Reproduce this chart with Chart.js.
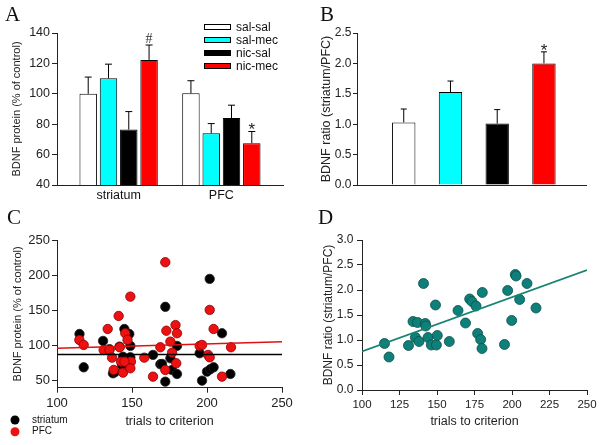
<!DOCTYPE html>
<html>
<head>
<meta charset="utf-8">
<title>BDNF panels</title>
<script src="https://cdn.jsdelivr.net/npm/chart.js@4.4.1/dist/chart.umd.min.js"></script>
<style>
  body { margin: 0; background: #fff; }
  #wrap { position: relative; width: 600px; height: 445px; overflow: hidden; }
  canvas { position: absolute; }
  .letter { position: absolute; font-family: 'Liberation Serif', 'Times New Roman', serif; font-size: 21px; line-height: 1; color: #111; }
</style>
</head>
<body>
<div id="wrap">
  <canvas id="chartA" width="300" height="220" style="left:0;top:0"></canvas>
  <canvas id="chartB" width="300" height="220" style="left:300px;top:0"></canvas>
  <canvas id="chartC" width="300" height="225" style="left:0;top:220px"></canvas>
  <canvas id="chartD" width="300" height="225" style="left:300px;top:220px"></canvas>
  <div class="letter" style="left:5px;top:4px">A</div>
  <div class="letter" style="left:320px;top:4px">B</div>
  <div class="letter" style="left:7px;top:207px">C</div>
  <div class="letter" style="left:318px;top:207px">D</div>
</div>
<script>
// groups and treatments
const regions = ['striatum', 'PFC'];
const regionPos = [1, 2];
const treatments = ['sal-sal', 'sal-mec', 'nic-sal', 'nic-mec'];
const treatmentColors = ['#ffffff', '#00ffff', '#000000', '#ff0000'];

// panel A: BDNF protein (% of control), [striatum, PFC]
const salSal = [100, 100.3];
const salMec = [110.2, 74];
const nicSal = [76.5, 84];
const nicMec = [122.3, 67.5];
const salSalErr = [11, 8.3];
const salMecErr = [9.3, 6.4];
const nicSalErr = [11.8, 8.5];
const nicMecErr = [9.8, 7.7];
const nicMecMarks = ['#', '*'];

// panel B: BDNF ratio (striatum/PFC)
const ratioPos = [1, 2, 3, 4];
const ratioMean = [1.03, 1.53, 1.01, 2.0];
const ratioErr = [0.22, 0.18, 0.23, 0.19];
const ratioMarks = ['', '', '', '*'];

// panel C: BDNF protein vs trials to criterion
const striatumTrials = [115, 117.8, 130.7, 135, 137.3, 141.7, 144.9, 148.2, 148.9, 144, 148.9, 143.3, 164, 168.9, 172.2, 172.2, 170, 175.6, 176.7, 180, 180, 195.1, 196.7, 201.8, 200, 202.2, 204.4, 210, 215.6, 138.5];
const striatumBdnf = [116.4, 69, 106.5, 94.7, 60.5, 98.4, 123.5, 116.4, 99.4, 84, 83.2, 72.3, 86.6, 73.3, 48.6, 155, 73.8, 81.8, 65.2, 59.5, 99.4, 89, 50, 194.7, 62.8, 66.2, 69, 117.4, 59.5, 62];
const pfcTrials = [114.9, 117.8, 133.8, 131.1, 135, 136.7, 137.8, 141.1, 141.8, 142.7, 144, 145.5, 147, 148.9, 149.3, 148.9, 145, 158.2, 164, 168.9, 172.2, 172.9, 172.2, 175.6, 176.7, 179, 180, 179.5, 195.1, 196.7, 200.7, 201.8, 201.8, 204.4, 210, 216];
const pfcBdnf = [107.9, 100.8, 123.5, 93.6, 93.6, 82.7, 65.2, 142, 97.5, 77, 61.4, 117.4, 108, 169.5, 77, 67.6, 77, 82.7, 55.7, 97.5, 218.4, 121, 65.2, 105.5, 89.8, 129, 117.4, 74.7, 99.4, 100.8, 86.6, 83.2, 150.6, 123.5, 55.7, 97.5];
const fitTrials = [100, 250];
const striatumFit = [87.3, 87.3];
const pfcFit = [96, 105.5];
const cTicksY = [50, 100, 150, 200, 250];

// panel D: ratio vs trials to criterion
const ratioTrials = [115, 118, 131, 134, 135.6, 137, 138, 141, 142.2, 142.5, 144, 146.2, 149, 149.6, 150.2, 158.2, 164, 169, 171.8, 173.3, 176, 177.1, 179.1, 180, 180.2, 195, 197.1, 199.8, 202.2, 202.7, 205.1, 210, 216];
const ratioValues = [0.93, 0.66, 0.89, 1.37, 1.05, 1.35, 0.97, 2.13, 1.33, 1.28, 1.05, 0.9, 1.70, 0.9, 1.09, 0.97, 1.59, 1.34, 1.82, 1.77, 1.68, 1.13, 1.01, 0.83, 1.95, 0.91, 1.99, 1.39, 2.31, 2.28, 1.81, 2.13, 1.64];
const ratioFit = [0.77, 2.40];

Chart.defaults.font.family = "'Liberation Sans', Arial, sans-serif";
Chart.defaults.color = '#222';
const axisColor = '#222';

function toPoints(xs, ys) {
  return xs.map((x, i) => ({ x: x, y: ys[i] }));
}

// draws the one-sided error bars plus the significance marks
const errorBars = {
  id: 'errorBars',
  afterDatasetsDraw(chart, args, opts) {
    const ctx = chart.ctx;
    const yScale = chart.scales.y;
    chart.data.datasets.forEach((ds, i) => {
      if (!ds.errors) return;
      const meta = chart.getDatasetMeta(i);
      meta.data.forEach((bar, j) => {
        const capY = yScale.getPixelForValue(ds.data[j].y + ds.errors[j]);
        ctx.save();
        ctx.strokeStyle = '#000';
        ctx.lineWidth = 1;
        ctx.beginPath();
        ctx.moveTo(bar.x, bar.y);
        ctx.lineTo(bar.x, capY);
        ctx.moveTo(bar.x - opts.cap, capY);
        ctx.lineTo(bar.x + opts.cap, capY);
        ctx.stroke();
        const mark = ds.marks ? ds.marks[j] : '';
        if (mark === '*') {
          ctx.fillStyle = '#222';
          ctx.font = "17px 'Liberation Sans', Arial";
          ctx.textAlign = 'center';
          ctx.textBaseline = 'alphabetic';
          ctx.fillText(mark, bar.x, capY + 4);
        } else if (mark) {
          ctx.fillStyle = '#333';
          ctx.font = "14px 'Liberation Serif', serif";
          ctx.textAlign = 'center';
          ctx.textBaseline = 'alphabetic';
          ctx.fillText(mark, bar.x, capY - 2);
        }
        ctx.restore();
      });
    });
  }
};

// flat box legend used in panel A
const boxLegend = {
  id: 'boxLegend',
  afterDraw(chart, args, opts) {
    if (!opts.show) return;
    const ctx = chart.ctx;
    ctx.save();
    chart.data.datasets.forEach((ds, i) => {
      const y = opts.y + i * opts.step;
      ctx.fillStyle = ds.backgroundColor;
      ctx.fillRect(opts.x + 0.5, y - 2.5, 26, 5);
      ctx.strokeStyle = '#000';
      ctx.lineWidth = 1;
      ctx.strokeRect(opts.x + 0.5, y - 2.5, 26, 5);
      ctx.fillStyle = '#111';
      ctx.font = "12px 'Liberation Sans', Arial";
      ctx.textAlign = 'left';
      ctx.textBaseline = 'middle';
      ctx.fillText(ds.label, opts.x + 32, y + 0.5);
    });
    ctx.restore();
  }
};

// dot legend used in panel C
const dotLegend = {
  id: 'dotLegend',
  afterDraw(chart, args, opts) {
    if (!opts.show) return;
    const ctx = chart.ctx;
    ctx.save();
    opts.items.forEach((item, i) => {
      const y = opts.y + i * opts.step;
      ctx.beginPath();
      ctx.arc(opts.x, y, 4.5, 0, Math.PI * 2);
      ctx.fillStyle = item.color;
      ctx.fill();
      ctx.fillStyle = '#111';
      ctx.font = "10px 'Liberation Sans', Arial";
      ctx.textAlign = 'left';
      ctx.textBaseline = 'middle';
      ctx.fillText(item.label, opts.x + 17, y);
    });
    ctx.restore();
  }
};

function yAxis(opts) {
  return {
    type: 'linear',
    min: opts.min,
    max: opts.max,
    afterFit: s => { s.width = opts.width; },
    afterBuildTicks: opts.ticks ? (s => { s.ticks = opts.ticks.map(v => ({ value: v })); }) : undefined,
    ticks: {
      stepSize: opts.step,
      font: { size: opts.tickSize },
      padding: opts.tickPad,
      callback: opts.fmt
    },
    grid: { drawOnChartArea: false, drawTicks: true, tickLength: opts.tickLen, color: axisColor },
    border: { display: true, color: axisColor, width: 1 },
    title: {
      display: true,
      text: opts.title,
      font: { size: opts.titleSize },
      color: '#222',
      padding: { top: opts.titlePad, bottom: 0 }
    }
  };
}

function generatePanelA() {
  const ctx = document.getElementById('chartA').getContext('2d');
  const series = [salSal, salMec, nicSal, nicMec];
  const errs = [salSalErr, salMecErr, nicSalErr, nicMecErr];
  new Chart(ctx, {
    type: 'bar',
    data: {
      datasets: treatments.map((t, i) => ({
        label: t,
        data: toPoints(regionPos, series[i]),
        errors: errs[i],
        marks: i === 3 ? nicMecMarks : null,
        backgroundColor: treatmentColors[i],
        borderColor: '#000',
        borderWidth: 1,
        categoryPercentage: 0.79,
        barPercentage: 0.86
      }))
    },
    options: {
      responsive: false,
      animation: false,
      layout: { padding: { top: 33, right: 17, left: 0, bottom: 0 } },
      plugins: {
        legend: { display: false },
        tooltip: { enabled: false },
        errorBars: { cap: 3.5 },
        boxLegend: { show: true, x: 204, y: 27, step: 13 }
      },
      scales: {
        x: {
          type: 'linear',
          min: 0.4,
          max: 2.6,
          offset: false,
          afterFit: s => { s.height = 35; },
          afterBuildTicks: s => { s.ticks = regionPos.map(v => ({ value: v })); },
          ticks: {
            font: { size: 12.5 },
            padding: 3,
            color: '#111',
            callback: v => regions[regionPos.indexOf(v)]
          },
          grid: { display: true, drawOnChartArea: false, drawTicks: false, offset: false },
          border: { display: true, color: axisColor, width: 1 }
        },
        y: yAxis({ min: 40, max: 140, step: 20, width: 57, tickSize: 12.5, tickPad: 2, tickLen: 5,
                   title: 'BDNF protein (% of control)', titleSize: 11, titlePad: 10.5 })
      }
    },
    plugins: [errorBars, boxLegend]
  });
}

function generatePanelB() {
  const ctx = document.getElementById('chartB').getContext('2d');
  new Chart(ctx, {
    type: 'bar',
    data: {
      datasets: [{
        label: 'ratio',
        data: toPoints(ratioPos, ratioMean),
        errors: ratioErr,
        marks: ratioMarks,
        backgroundColor: treatmentColors,
        borderColor: '#000',
        borderWidth: 1,
        categoryPercentage: 1,
        barPercentage: 0.5
      }]
    },
    options: {
      responsive: false,
      animation: false,
      layout: { padding: { top: 33, right: 14, left: 0, bottom: 0 } },
      plugins: {
        legend: { display: false },
        tooltip: { enabled: false },
        errorBars: { cap: 3 }
      },
      scales: {
        x: {
          type: 'linear',
          min: 0,
          max: 4.9,
          offset: false,
          afterFit: s => { s.height = 35; },
          afterBuildTicks: s => { s.ticks = ratioPos.map(v => ({ value: v })); },
          ticks: { display: false },
          grid: { display: true, drawOnChartArea: false, drawTicks: false, offset: false },
          border: { display: true, color: axisColor, width: 1 }
        },
        y: yAxis({ min: 0, max: 2.5, step: 0.5, width: 57, tickSize: 12, tickPad: 1.5, tickLen: 4,
                   fmt: v => v.toFixed(1),
                   title: 'BDNF ratio (striatum/PFC)', titleSize: 12.5, titlePad: 19 })
      }
    },
    plugins: [errorBars]
  });
}

function generatePanelC() {
  const ctx = document.getElementById('chartC').getContext('2d');
  new Chart(ctx, {
    type: 'scatter',
    data: {
      datasets: [
        { type: 'line', label: 'PFC fit', data: toPoints(fitTrials, pfcFit), borderColor: '#e01010', borderWidth: 1.5, pointRadius: 0, fill: false },
        { type: 'line', label: 'striatum fit', data: toPoints(fitTrials, striatumFit), borderColor: '#000', borderWidth: 1.5, pointRadius: 0, fill: false },
        { label: 'PFC', data: toPoints(pfcTrials, pfcBdnf), backgroundColor: '#ee1111', borderColor: '#8a0000', borderWidth: 0.8, pointRadius: 4.7 },
        { label: 'striatum', data: toPoints(striatumTrials, striatumBdnf), backgroundColor: '#000', borderColor: '#222', borderWidth: 0.8, pointRadius: 4.7 }
      ]
    },
    options: {
      responsive: false,
      animation: false,
      layout: { padding: { top: 20, right: 18, left: 0, bottom: 0 } },
      plugins: {
        legend: { display: false },
        tooltip: { enabled: false },
        dotLegend: { show: true, x: 15, y: 200, step: 11.7, items: [{ label: 'striatum', color: '#000' }, { label: 'PFC', color: '#ee1111' }] }
      },
      scales: {
        x: {
          type: 'linear',
          min: 100,
          max: 250,
          afterFit: s => { s.height = 57.3; },
          ticks: { stepSize: 50, font: { size: 13 }, padding: 3 },
          grid: { drawOnChartArea: false, drawTicks: true, tickLength: 5, color: axisColor },
          border: { display: true, color: axisColor, width: 1 },
          title: { display: true, text: 'trials to criterion', font: { size: 12.5 }, color: '#222', padding: { top: 0, bottom: 16 } }
        },
        y: yAxis({ min: 40, max: 250, ticks: cTicksY, width: 57, tickSize: 13, tickPad: 2, tickLen: 5,
                   title: 'BDNF protein (% of control)', titleSize: 11, titlePad: 11.5 })
      }
    },
    plugins: [dotLegend]
  });
}

function generatePanelD() {
  const ctx = document.getElementById('chartD').getContext('2d');
  new Chart(ctx, {
    type: 'scatter',
    data: {
      datasets: [
        { type: 'line', label: 'fit', data: toPoints(fitTrials, ratioFit), borderColor: '#178571', borderWidth: 1.8, pointRadius: 0, fill: false },
        { label: 'ratio', data: toPoints(ratioTrials, ratioValues), backgroundColor: '#0e8079', borderColor: '#0a4f4a', borderWidth: 0.8, pointRadius: 5 }
      ]
    },
    options: {
      responsive: false,
      animation: false,
      layout: { padding: { top: 20, right: 13, left: 0, bottom: 0 } },
      plugins: {
        legend: { display: false },
        tooltip: { enabled: false }
      },
      scales: {
        x: {
          type: 'linear',
          min: 100,
          max: 250,
          afterFit: s => { s.height = 55; },
          ticks: { stepSize: 25, font: { size: 11.5 }, padding: 3 },
          grid: { drawOnChartArea: false, drawTicks: true, tickLength: 5, color: axisColor },
          border: { display: true, color: axisColor, width: 1 },
          title: { display: true, text: 'trials to criterion', font: { size: 12.5 }, color: '#222', padding: { top: 0, bottom: 16 } }
        },
        y: yAxis({ min: 0, max: 3, step: 0.5, width: 62, tickSize: 12, tickPad: 3.5, tickLen: 5,
                   fmt: v => v.toFixed(1),
                   title: 'BDNF ratio (striatum/PFC)', titleSize: 12, titlePad: 21 })
      }
    }
  });
}

window.onload = function () {
  generatePanelA();
  generatePanelB();
  generatePanelC();
  generatePanelD();
};
</script>
</body>
</html>
